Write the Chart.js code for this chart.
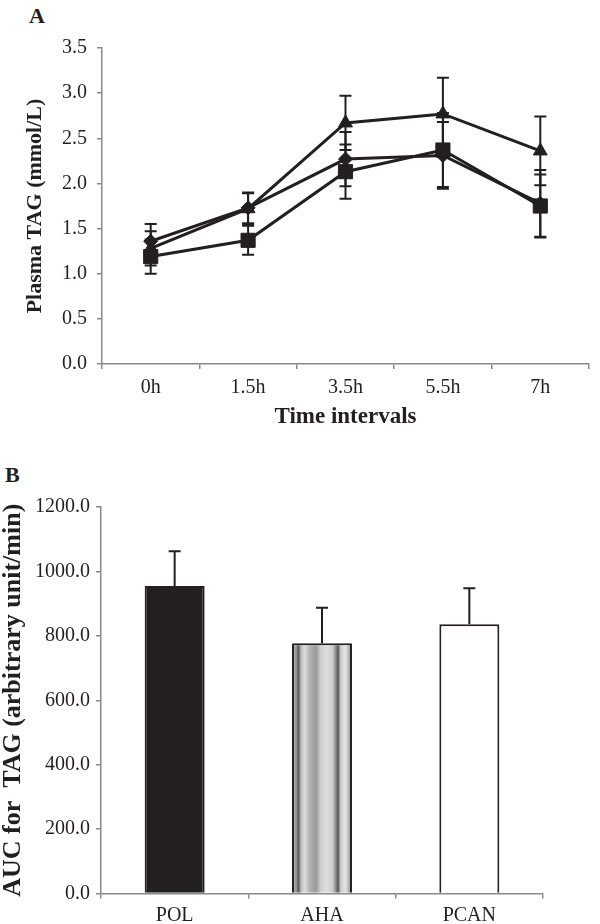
<!DOCTYPE html>
<html>
<head>
  <title>Plasma TAG</title>
  <style>
    body { margin: 0; background: #fff; }
    #wrap { position: relative; width: 600px; height: 924px; background: #fff; }
    canvas { position: absolute; left: 0; }
    .panel {
      position: absolute;
      font-family: 'Liberation Serif', 'Times New Roman', serif;
      font-weight: bold;
      font-size: 22px;
      line-height: 22px;
      color: #231f20;
    }
  </style>
</head>
<body>
  <div id="wrap">
    <div class="panel" style="left:29px; top:5px;">A</div>
    <canvas id="lineChart" width="600" height="440" style="top:0"></canvas>
    <div class="panel" style="left:5px; top:464px;">B</div>
    <canvas id="barChart" width="600" height="484" style="top:440px"></canvas>
  </div>
  <script src="https://cdn.jsdelivr.net/npm/chart.js"></script>
  <script>
    // data
    const timeLabels = ['0h', '1.5h', '3.5h', '5.5h', '7h'];
    const polMean  = [1.36, 1.73, 2.27, 2.31, 1.78];   // diamonds
    const polSd    = [0.19, 0.17, 0.30, 0.37, 0.37];
    const ahaMean  = [1.19, 1.37, 2.13, 2.37, 1.75];   // squares
    const ahaSd    = [0.19, 0.16, 0.30, 0.41, 0.35];
    const pcanMean = [1.28, 1.72, 2.67, 2.77, 2.36];   // triangles
    const pcanSd   = [0.19, 0.17, 0.30, 0.40, 0.38];

    const groups  = ['POL', 'AHA', 'PCAN'];
    const aucMean = [955, 777, 836];
    const aucSd   = [108, 110, 112];

    const ink = '#231f20';
    const grey = '#8a8a8a';
    const serif = "'Liberation Serif', 'Times New Roman', serif";

    // draws SD whiskers from each dataset's "errors" array
    function errorBarPlugin(when, plusOnly) {
      const draw = (chart) => {
        const ctx = chart.ctx;
        const y = chart.scales.y;
        ctx.save();
        ctx.strokeStyle = ink;
        ctx.lineWidth = 2;
        chart.data.datasets.forEach((ds, i) => {
          const meta = chart.getDatasetMeta(i);
          meta.data.forEach((el, j) => {
            const v = ds.data[j], e = ds.errors[j];
            const yTop = y.getPixelForValue(v + e);
            const yBot = plusOnly ? y.getPixelForValue(v) : y.getPixelForValue(v - e);
            const x = el.x;
            ctx.beginPath();
            ctx.moveTo(x, yTop); ctx.lineTo(x, yBot);
            ctx.moveTo(x - 6, yTop); ctx.lineTo(x + 6, yTop);
            if (!plusOnly) { ctx.moveTo(x - 6, yBot); ctx.lineTo(x + 6, yBot); }
            ctx.stroke();
          });
        });
        ctx.restore();
      };
      const p = { id: 'errorBars' };
      if (when === 'before') p.beforeDatasetsDraw = draw; else p.afterDatasetsDraw = draw;
      return p;
    }

    function axisGrid() {
      return { drawOnChartArea: false, color: grey, lineWidth: 1.5, tickLength: 5 };
    }

    // ---- A: line chart ----
    function series(label, data, errs, style, radius) {
      return {
        label: label, data: data, errors: errs,
        borderColor: ink, backgroundColor: ink, borderWidth: 3,
        pointStyle: style, pointRadius: radius, pointBorderWidth: 1,
        pointBackgroundColor: ink, pointBorderColor: ink, tension: 0
      };
    }

    new Chart(document.getElementById('lineChart'), {
      type: 'line',
      data: {
        labels: timeLabels,
        datasets: [
          series('AHA', ahaMean, ahaSd, 'rect', 10),
          series('POL', polMean, polSd, 'rectRot', 7),
          series('PCAN', pcanMean, pcanSd, 'triangle', 8)
        ]
      },
      options: {
        responsive: false,
        animation: false,
        layout: { padding: { top: 48, right: 2, left: 0, bottom: 0 } },
        plugins: { legend: { display: false }, tooltip: { enabled: false } },
        scales: {
          x: {
            offset: true,
            grid: Object.assign(axisGrid(), { offset: true }),
            border: { color: grey, width: 1.5 },
            ticks: { color: ink, font: { family: serif, size: 20 }, padding: 7 },
            title: { display: true, text: 'Time intervals', color: ink,
                     font: { family: serif, size: 23, weight: 'bold' }, padding: { top: 0, bottom: 9 } },
            afterFit: (s) => { s.height = 76; }
          },
          y: {
            min: 0, max: 3.5,
            grid: axisGrid(),
            border: { color: grey, width: 1.5 },
            ticks: { stepSize: 0.5, color: ink, font: { family: serif, size: 20 }, padding: 10,
                     callback: (v) => v.toFixed(1) },
            title: { display: true, text: 'Plasma TAG (mmol/L)', color: ink,
                     font: { family: serif, size: 22, weight: 'bold' }, padding: { top: 22, bottom: 0 } },
            afterFit: (s) => { s.width = 102; }
          }
        }
      },
      plugins: [errorBarPlugin('before', false)]
    });

    // ---- B: bar chart ----
    const barPct = 0.407;
    function ahaFill(c) {
      const chart = c.chart;
      const xs = chart.scales.x;
      if (!xs || !chart.chartArea) return '#bbb';
      const w = xs.width / groups.length * barPct;
      const cx = xs.getPixelForValue(c.dataIndex);
      const g = chart.ctx.createLinearGradient(cx - w / 2, 0, cx + w / 2, 0);
      const stops = [
        [0.00, '#777'], [0.04, '#aaa'], [0.08, '#888'], [0.11, '#5a5a5a'], [0.15, '#bdbdbd'],
        [0.21, '#dcdcdc'], [0.30, '#b0b0b0'], [0.40, '#9a9a9a'], [0.48, '#cfcfcf'],
        [0.58, '#dedede'], [0.68, '#cacaca'], [0.73, '#8a8a8a'], [0.77, '#555'],
        [0.81, '#c8c8c8'], [0.89, '#e6e6e6'], [0.96, '#a8a8a8'], [1.00, '#777']
      ];
      stops.forEach(([o, col]) => g.addColorStop(o, col));
      return g;
    }

    new Chart(document.getElementById('barChart'), {
      type: 'bar',
      data: {
        labels: groups,
        datasets: [{
          label: 'AUC',
          data: aucMean,
          errors: aucSd,
          backgroundColor: (c) => c.dataIndex === 0 ? ink : (c.dataIndex === 1 ? ahaFill(c) : '#ffffff'),
          borderColor: ink,
          borderWidth: 2,
          borderSkipped: 'bottom',
          categoryPercentage: 1,
          barPercentage: barPct
        }]
      },
      options: {
        responsive: false,
        animation: false,
        layout: { padding: { top: 67, right: 57, left: 0, bottom: 0 } },
        plugins: { legend: { display: false }, tooltip: { enabled: false } },
        scales: {
          x: {
            grid: axisGrid(),
            border: { color: grey, width: 1.5 },
            ticks: { color: ink, font: { family: serif, size: 20 }, padding: 5 },
            afterFit: (s) => { s.height = 30.5; }
          },
          y: {
            min: 0, max: 1200,
            grid: axisGrid(),
            border: { color: grey, width: 1.5 },
            ticks: { stepSize: 200, color: ink, font: { family: serif, size: 20 }, padding: 6,
                     callback: (v) => v.toFixed(1) },
            title: { display: true, text: 'AUC for  TAG (arbitrary unit/min)', color: ink,
                     font: { family: serif, size: 26, weight: 'bold', lineHeight: 1 },
                     padding: { top: 0, bottom: 0 } },
            afterFit: (s) => { s.width = 101; }
          }
        }
      },
      plugins: [errorBarPlugin('after', true)]
    });
  </script>
</body>
</html>
